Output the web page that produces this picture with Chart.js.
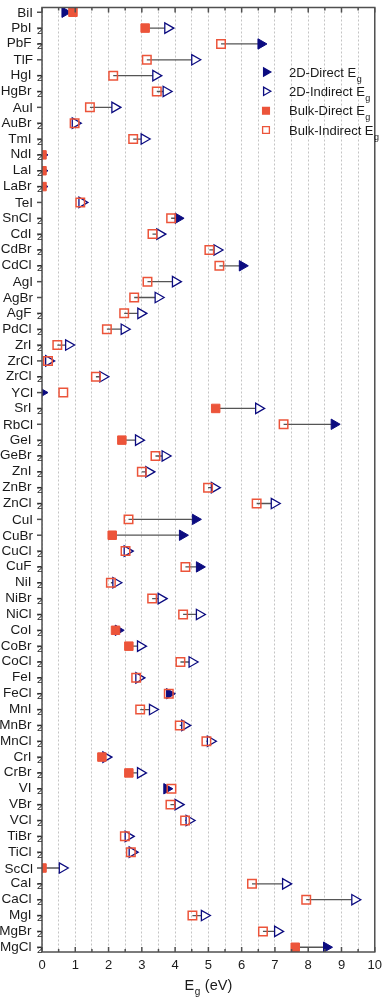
<!DOCTYPE html>
<html>
<head>
<meta charset="utf-8">
<script src="https://cdn.jsdelivr.net/npm/chart.js@4.4.1/dist/chart.umd.min.js"></script>
<style>
  html, body { margin: 0; padding: 0; background: #fff; }
  canvas { display: block; }
</style>
</head>
<body>
<canvas id="gap-chart" width="388" height="1000"></canvas>
<script>
(function () {
  'use strict';

  // one row per material, top to bottom; a trailing "2" is drawn as a subscript
  const materials = [
    'BiI', 'PbI2', 'PbF2', 'TlF', 'HgI2', 'HgBr2', 'AuI', 'AuBr2', 'TmI2', 'NdI2',
    'LaI2', 'LaBr2', 'TeI', 'SnCl2', 'CdI2', 'CdBr2', 'CdCl2', 'AgI', 'AgBr', 'AgF2',
    'PdCl2', 'ZrI2', 'ZrCl', 'ZrCl2', 'YCl', 'SrI2', 'RbCl', 'GeI2', 'GeBr2', 'ZnI2',
    'ZnBr2', 'ZnCl2', 'CuI', 'CuBr', 'CuCl2', 'CuF2', 'NiI2', 'NiBr2', 'NiCl2', 'CoI2',
    'CoBr2', 'CoCl2', 'FeI2', 'FeCl2', 'MnI2', 'MnBr2', 'MnCl2', 'CrI2', 'CrBr2', 'VI2',
    'VBr2', 'VCl2', 'TiBr2', 'TiCl2', 'ScCl', 'CaI2', 'CaCl2', 'MgI2', 'MgBr2', 'MgCl2',
  ];

  // bulk band gap (eV) and whether it is direct (1) or indirect (0)
  const bulkGap = [
    0.93, 3.10, 5.38, 3.15, 2.14, 3.45, 1.44, 0.98, 2.74, 0.00,
    0.00, 0.00, 1.15, 3.88, 3.32, 5.03, 5.33, 3.17, 2.77, 2.47,
    1.95, 0.46, 0.18, 1.62, 0.64, 5.22, 7.26, 2.40, 3.41, 3.00,
    4.99, 6.45, 2.60, 2.11, 2.51, 4.31, 2.07, 3.31, 4.24, 2.21,
    2.61, 4.16, 2.83, 3.81, 2.95, 4.14, 4.94, 1.80, 2.61, 3.89,
    3.86, 4.30, 2.49, 2.67, 0.00, 6.31, 7.94, 4.52, 6.64, 7.61,
  ];
  const bulkDirect = [
    1, 1, 0, 0, 0, 0, 0, 0, 0, 1,
    1, 1, 0, 0, 0, 0, 0, 0, 0, 0,
    0, 0, 0, 0, 0, 1, 0, 1, 0, 0,
    0, 0, 0, 1, 0, 0, 0, 0, 0, 1,
    1, 0, 0, 0, 0, 0, 0, 1, 1, 0,
    0, 0, 0, 0, 1, 0, 0, 0, 0, 1,
  ];

  // 2D (monolayer) band gap (eV) and direct/indirect flag
  const monoGap = [
    0.69, 3.78, 6.58, 4.59, 3.42, 3.73, 2.19, 1.00, 3.07, 0.00,
    0.00, 0.00, 1.20, 4.09, 3.54, 5.26, 6.02, 4.01, 3.49, 2.97,
    2.47, 0.80, 0.20, 1.83, 0.00, 6.51, 8.78, 2.90, 3.70, 3.21,
    5.18, 6.98, 4.61, 4.22, 2.56, 4.73, 2.22, 3.58, 4.73, 2.29,
    2.96, 4.51, 2.91, 3.83, 3.32, 4.29, 5.06, 1.92, 2.96, 3.75,
    4.09, 4.42, 2.59, 2.71, 0.61, 7.32, 9.40, 4.88, 7.08, 8.55,
  ];
  const monoDirect = [
    1, 0, 1, 0, 0, 0, 0, 0, 0, 1,
    1, 1, 0, 1, 0, 0, 1, 0, 0, 0,
    0, 0, 0, 0, 1, 0, 1, 0, 0, 0,
    0, 0, 1, 1, 0, 1, 0, 0, 0, 1,
    0, 0, 0, 1, 0, 0, 0, 0, 0, 1,
    0, 0, 0, 0, 0, 0, 0, 0, 0, 1,
  ];

  const xTickValues = [0, 1, 2, 3, 4, 5, 6, 7, 8, 9, 10];
  const legendLabels = ['2D-Direct E', '2D-Indirect E', 'Bulk-Direct E', 'Bulk-Indirect E'];

  const NAVY = '#0c0c80';
  const RED = '#ec543a';
  const AXIS = '#505050';
  const TEXT = '#1a1a1a';
  const FONT = '"Liberation Sans", Arial, sans-serif';

  const pick = (gaps, flags, want) =>
    gaps.map((g, i) => (flags[i] === want ? { x: g, y: i } : null)).filter(Boolean);

  // connector from the bulk value to the 2D value, only where the gap opens up
  const arrows = [];
  materials.forEach((m, i) => {
    if (monoGap[i] > bulkGap[i]) {
      arrows.push({ x: bulkGap[i], y: i }, { x: monoGap[i], y: i }, { x: null, y: i });
    }
  });

  const tri = { pointStyle: 'triangle', rotation: 90, pointRadius: 6 };
  const sq = { pointStyle: 'rect', pointRadius: 6 };

  function line(ctx, x1, y1, x2, y2) {
    ctx.beginPath(); ctx.moveTo(x1, y1); ctx.lineTo(x2, y2); ctx.stroke();
  }

  // text with a lowered, smaller suffix ("E" + "g")
  function subText(ctx, main, sub, x, y, size, subSize, drop, gap) {
    ctx.font = `${size}px ${FONT}`;
    ctx.fillText(main, x, y);
    const w = ctx.measureText(main).width;
    ctx.font = `${subSize}px ${FONT}`;
    ctx.fillText(sub, x + w + gap, y + drop);
  }

  const decor = {
    id: 'decor',
    afterDraw(chart) {
      const { ctx, chartArea: a, scales: { x, y } } = chart;
      ctx.save();

      // frame + ticks (x ticks point inward on top and bottom, row ticks point out)
      ctx.strokeStyle = AXIS;
      ctx.lineWidth = 1.5;
      ctx.strokeRect(a.left, a.top, a.right - a.left, a.bottom - a.top);
      for (let v = 0; v <= 10; v += 0.5) {
        const px = x.getPixelForValue(v);
        const len = v % 1 === 0 ? 5 : 3;
        line(ctx, px, a.bottom, px, a.bottom - len);
        line(ctx, px, a.top, px, a.top + len);
      }
      materials.forEach((m, i) => {
        const py = y.getPixelForValue(i);
        line(ctx, a.left - 5, py, a.left, py);
      });

      // category labels
      ctx.fillStyle = TEXT;
      ctx.textBaseline = 'alphabetic';
      materials.forEach((m, i) => {
        const py = y.getPixelForValue(i);
        ctx.textAlign = 'right';
        ctx.font = `13.5px ${FONT}`;
        if (/\d$/.test(m)) {
          ctx.fillText(m.slice(0, -1), a.left - 10.5, py + 3.5);
          ctx.font = `9.5px ${FONT}`;
          ctx.textAlign = 'left';
          ctx.fillText(m.slice(-1), a.left - 5, py + 5.5);
        } else {
          ctx.fillText(m, a.left - 9, py + 4.5);
        }
      });

      // legend
      const lx = 266, ly = [72, 91.3, 110.7, 130];
      const styles = [
        { pointStyle: 'triangle', rotation: 90, fill: NAVY, stroke: NAVY },
        { pointStyle: 'triangle', rotation: 90, fill: '#fff', stroke: NAVY },
        { pointStyle: 'rect', rotation: 0, fill: RED, stroke: RED },
        { pointStyle: 'rect', rotation: 0, fill: '#fff', stroke: RED },
      ];
      legendLabels.forEach((label, i) => {
        const s = styles[i];
        ctx.fillStyle = s.fill;
        ctx.strokeStyle = s.stroke;
        ctx.lineWidth = 1.3;
        Chart.helpers.drawPoint(ctx, { pointStyle: s.pointStyle, rotation: s.rotation, radius: 4.8, borderWidth: 1.3 }, lx, ly[i]);
        ctx.fillStyle = TEXT;
        ctx.textAlign = 'left';
        subText(ctx, label, 'g', 289, ly[i] + 4.5, 13, 9, 5, 0.5);
      });

      // x axis title: E_g (eV)
      ctx.font = `14.5px ${FONT}`;
      const wE = ctx.measureText('E').width;
      ctx.font = `10px ${FONT}`;
      const wg = ctx.measureText('g').width;
      ctx.font = `14.5px ${FONT}`;
      const wRest = ctx.measureText(' (eV)').width;
      let tx = (a.left + a.right) / 2 - (wE + wg + 1 + wRest) / 2;
      ctx.fillText('E', tx, 990);
      tx += wE + 0.5;
      ctx.font = `10px ${FONT}`;
      ctx.fillText('g', tx, 995);
      tx += wg + 0.5;
      ctx.font = `14.5px ${FONT}`;
      ctx.fillText(' (eV)', tx, 990);

      ctx.restore();
    },
  };

  new Chart(document.getElementById('gap-chart'), {
    type: 'scatter',
    data: {
      datasets: [
        { label: 'arrow', data: arrows, showLine: true, borderColor: '#555', borderWidth: 1.3, pointRadius: 0, order: 3 },
        { label: '2D-Direct', data: pick(monoGap, monoDirect, 1), ...tri, backgroundColor: NAVY, borderColor: NAVY, borderWidth: 1, order: 2 },
        { label: '2D-Indirect', data: pick(monoGap, monoDirect, 0), ...tri, backgroundColor: '#fff', borderColor: NAVY, borderWidth: 1.3, order: 2 },
        { label: 'Bulk-Direct', data: pick(bulkGap, bulkDirect, 1), ...sq, backgroundColor: RED, borderColor: RED, borderWidth: 1, order: 1 },
        { label: 'Bulk-Indirect', data: pick(bulkGap, bulkDirect, 0), ...sq, backgroundColor: 'rgba(0,0,0,0)', borderColor: RED, borderWidth: 1.5, order: 1 },
      ],
    },
    options: {
      responsive: false,
      animation: false,
      events: [],
      layout: { padding: { left: 42, top: 2, right: 7, bottom: 0 } },
      plugins: { legend: { display: false }, tooltip: { enabled: false } },
      scales: {
        x: {
          type: 'linear',
          min: 0,
          max: 10,
          afterFit: (scale) => { scale.height = 48; },
          border: { display: false, dash: [2, 2] },
          grid: { color: '#c4c4c4', lineWidth: 1, drawTicks: false },
          ticks: {
            stepSize: 0.5,
            autoSkip: false,
            maxRotation: 0,
            padding: 6,
            color: TEXT,
            font: { family: FONT, size: 13 },
            callback: (v) => (xTickValues.includes(v) ? String(v) : ''),
          },
        },
        y: {
          type: 'linear',
          display: false,
          reverse: true,
          min: -0.3,
          max: materials.length - 0.7,
        },
      },
    },
    plugins: [decor],
  });
})();
</script>
</body>
</html>
